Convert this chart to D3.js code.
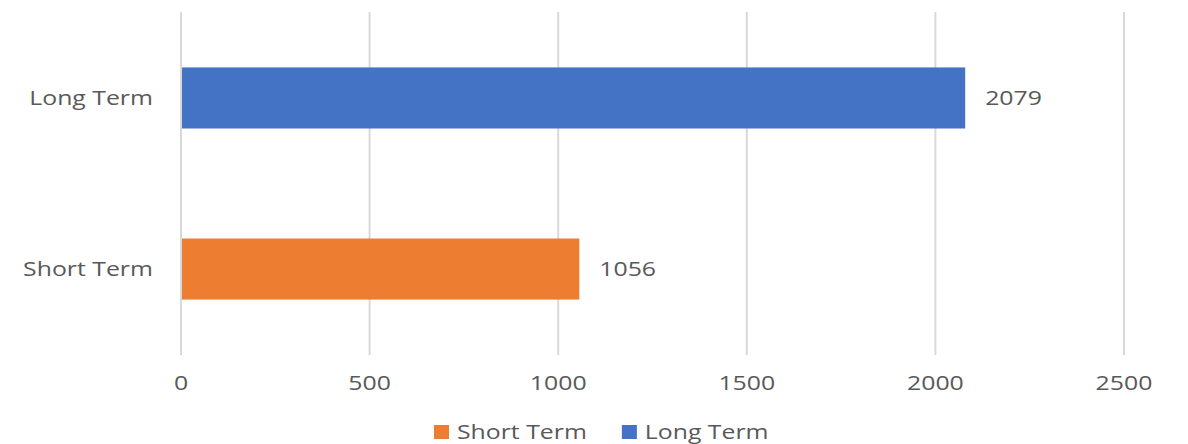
<!DOCTYPE html>
<html><head><meta charset="utf-8">
<script src="https://cdn.jsdelivr.net/npm/d3@7/dist/d3.min.js"></script>
<style>body{margin:0;background:#fff}svg{display:block}text{font-family:"Open Sans",sans-serif;fill:#595959}</style>
</head><body><svg id="c" width="1188" height="444"></svg>
<script>
const categories = ["Long Term", "Short Term"];
const values = [2079, 1056];
const colors = ["#4472C4", "#ED7D31"];
const xTicks = [0, 500, 1000, 1500, 2000, 2500];
const legendOrder = ["Short Term", "Long Term"];

(function(){
const svg = d3.select("#c");
const pL = 181, pR = 1124, pT = 12, pB = 355;
const x = d3.scaleLinear().domain([0, 2500]).range([pL, pR]);
const y = d3.scaleBand().domain(categories).range([pT, pB]).paddingInner(0.643).paddingOuter(0.324);
const color = d3.scaleOrdinal().domain(categories).range(colors);
const FS = 20.5, K = 1.21;
function stretch(sel){ sel.each(function(){ const w=this.getComputedTextLength(); this.__w = w*K; this.setAttribute("textLength", w*K); this.setAttribute("lengthAdjust","spacingAndGlyphs"); }); }

svg.append("g").selectAll("line").data(xTicks).join("line")
  .attr("x1", d=>x(d)).attr("x2", d=>x(d)).attr("y1", pT).attr("y2", pB)
  .attr("stroke", "#d9d9d9").attr("stroke-width", 2);

svg.append("g").selectAll("rect").data(categories).join("rect")
  .attr("x", x(0)+1).attr("y", d=>y(d)).attr("height", y.bandwidth())
  .attr("width", (d,i)=>x(values[i])-x(0)-1).attr("fill", d=>color(d));

svg.append("g").selectAll("text").data(categories).join("text")
  .attr("x", (d,i)=>x(values[i])+20).attr("y", d=>y(d)+y.bandwidth()/2).attr("dy","0.35em")
  .attr("font-size", FS).text((d,i)=>values[i]).call(stretch);

svg.append("g").selectAll("text").data(categories).join("text")
  .attr("x", 153).attr("y", d=>y(d)+y.bandwidth()/2).attr("dy","0.35em")
  .attr("font-size", FS).attr("text-anchor","end").text(d=>d).call(stretch);

svg.append("g").selectAll("text").data(xTicks).join("text")
  .attr("x", d=>x(d)).attr("y", 383).attr("dy","0.35em").attr("text-anchor","middle")
  .attr("font-size", FS).text(d=>d).call(stretch);

const lg = svg.append("g");
let lx = 434;
legendOrder.forEach(name=>{
  lg.append("rect").attr("x", lx).attr("y", 425).attr("width", 15).attr("height", 14).attr("fill", color(name));
  const t = lg.append("text").attr("x", lx+23).attr("y", 432).attr("dy","0.35em").attr("font-size", FS).text(name).call(stretch);
  lx += 23 + t.node().__w + 35;
});
})();
</script></body></html>
